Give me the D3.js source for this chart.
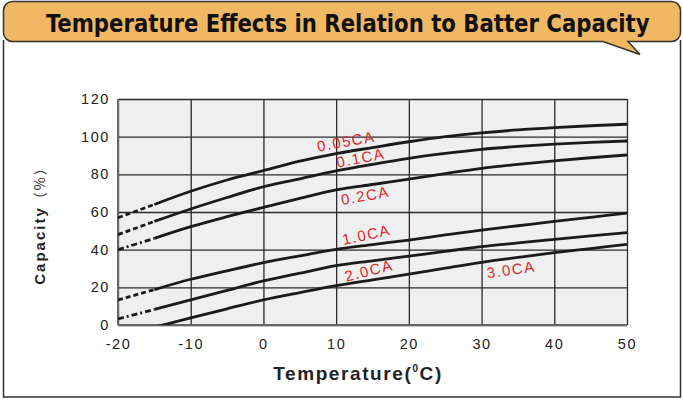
<!DOCTYPE html>
<html>
<head>
<meta charset="utf-8">
<script src="https://cdn.jsdelivr.net/npm/d3@7"></script>
<style>
  body { margin: 0; background: #fff; }
  svg { display: block; }
</style>
</head>
<body>
<script>
// temperatures (deg C) sampled along every curve
const temps = [-20, -15, -10, -5, 0, 5, 10, 15, 20, 25, 30, 35, 40, 45, 50];

// capacity (%) per discharge rate
const cap005 = [57, 64, 71, 77, 82, 87, 91, 94.2, 97.3, 100, 102, 103.6, 104.8, 105.8, 106.6];
const cap01  = [48, 55, 61.6, 67.7, 73.4, 77.6, 81.8, 85.3, 88.5, 91.1, 93.3, 94.8, 96, 97, 97.7];
const cap02  = [40, 46, 52.2, 57.5, 62.5, 67.2, 71.7, 74.6, 77.4, 80.4, 83.2, 85.3, 87.2, 88.8, 90.3];
const cap10  = [13.3, 18.8, 24.3, 28.8, 33.1, 36.7, 40.2, 42.7, 45.1, 47.8, 50.4, 52.7, 55, 57.2, 59.4];
const cap20  = [3.2, 8.3, 13.3, 18.4, 23.4, 27.5, 31.5, 34.1, 36.6, 39.1, 41.6, 43.6, 45.5, 47.3, 49];
const cap30  = [null, -1.2, 3.8, 8.6, 13.3, 17.2, 20.9, 24, 27, 30.2, 33.3, 35.9, 38.4, 40.6, 42.8];

const rateNames = ["0.05CA", "0.1CA", "0.2CA", "1.0CA", "2.0CA", "3.0CA"];
const rateValues = [cap005, cap01, cap02, cap10, cap20, cap30];

// where the estimated (dashed) part of each curve ends
const dashTo = -15;

const xTicks = [-20, -10, 0, 10, 20, 30, 40, 50];
const yTicks = [0, 20, 40, 60, 80, 100, 120];

// label anchor (temp, capacity) and tilt for each curve label
const labelAt = [[7.5, 92, -10], [10.2, 83.5, -11], [10.8, 63.7, -10], [11, 42.5, -12], [11.4, 23, -14], [30.8, 24.8, -8]];
const dashStyle = ["5,3", "5,3", "6,3,2,3", "5,3", "6,3,2,3", null];

const width = 683, height = 400;
const margin = {top: 99, right: 56, bottom: 75, left: 118};

const svg = d3.select("body").append("svg")
    .attr("width", width)
    .attr("height", height)
    .style("font-family", "'Liberation Sans', Arial, sans-serif");

// outer panel
svg.append("path")
    .attr("d", "M3.5,40 V397 H680.5 V40")
    .attr("fill", "#fff")
    .attr("stroke", "#333")
    .attr("stroke-width", 1.5);

// title bubble with tail
const r = 9, bx0 = 3.5, bx1 = 680.5, by0 = 1.5, by1 = 41.5;
svg.append("path")
    .attr("d", `M${bx0 + r},${by0} H${bx1 - r} A${r},${r} 0 0 1 ${bx1},${by0 + r} V${by1 - r}
      A${r},${r} 0 0 1 ${bx1 - r},${by1} H628 L640,54.5 L603,${by1} H${bx0 + r}
      A${r},${r} 0 0 1 ${bx0},${by1 - r} V${by0 + r} A${r},${r} 0 0 1 ${bx0 + r},${by0} Z`)
    .attr("fill", "#f1b864")
    .attr("stroke", "#333")
    .attr("stroke-width", 1.5);

// title: condensed by a horizontal scale so it fills the same span as the original
const title = svg.append("text")
    .style("font-family", "'Liberation Sans Narrow', 'DejaVu Sans Condensed', 'Liberation Sans', sans-serif")
    .style("font-weight", "bold")
    .style("font-size", "25px")
    .attr("fill", "#111")
    .text("Temperature Effects in Relation to Batter Capacity");
const titleW = title.node().getComputedTextLength();
title.attr("transform", `translate(46,32) scale(${604 / titleW},1)`);

const x = d3.scaleLinear()
    .domain([-20, 50])
    .range([margin.left, width - margin.right]);

const y = d3.scaleLinear()
    .domain([0, 120])
    .range([height - margin.bottom, margin.top]);

// plot background
svg.append("rect")
    .attr("x", x(-20))
    .attr("y", y(120))
    .attr("width", x(50) - x(-20))
    .attr("height", y(0) - y(120))
    .attr("fill", "#efefef");

// grid lines
svg.append("g")
    .attr("transform", `translate(0,${y(0)})`)
    .call(d3.axisBottom(x).tickValues(xTicks).tickSize(-(y(0) - y(120))).tickFormat(""))
    .call(g => g.select(".domain").remove())
    .call(g => g.selectAll("line").attr("stroke", "#2a2a2a").attr("stroke-width", 1.3));

svg.append("g")
    .attr("transform", `translate(${x(-20)},0)`)
    .call(d3.axisLeft(y).tickValues(yTicks).tickSize(-(x(50) - x(-20))).tickFormat(""))
    .call(g => g.select(".domain").remove())
    .call(g => g.selectAll("line").attr("stroke", "#2a2a2a").attr("stroke-width", 1.3));

// axis lines
svg.append("line")
    .attr("x1", x(-20)).attr("x2", x(-20))
    .attr("y1", y(0)).attr("y2", y(120))
    .attr("stroke", "#666").attr("stroke-width", 2);
svg.append("line")
    .attr("x1", x(-20)).attr("x2", x(50))
    .attr("y1", y(0)).attr("y2", y(0))
    .attr("stroke", "#666").attr("stroke-width", 2);

// tick labels (plain hyphen for negatives, as in the original)
svg.append("g")
    .attr("transform", `translate(0,${y(0)})`)
    .call(d3.axisBottom(x).tickValues(xTicks).tickSize(0).tickPadding(14).tickFormat(d => String(d)))
    .call(g => g.select(".domain").remove())
    .call(g => g.selectAll("text")
        .attr("fill", "#222")
        .style("font-family", "'Liberation Sans', Arial, sans-serif")
        .style("font-size", "14.5px")
        .style("letter-spacing", "1.6px"));

svg.append("g")
    .attr("transform", `translate(${x(-20)},0)`)
    .call(d3.axisLeft(y).tickValues(yTicks).tickSize(0).tickPadding(8).tickFormat(d => String(d)))
    .call(g => g.select(".domain").remove())
    .call(g => g.selectAll("text")
        .attr("fill", "#222")
        .style("font-family", "'Liberation Sans', Arial, sans-serif")
        .style("font-size", "14.5px")
        .style("letter-spacing", "1.6px"));

// curves
svg.append("clipPath").attr("id", "plot-clip")
    .append("rect")
    .attr("x", x(-20))
    .attr("y", y(120))
    .attr("width", x(50) - x(-20))
    .attr("height", y(0) - y(120));

const line = d3.line()
    .defined(d => d[1] != null)
    .x(d => x(d[0]))
    .y(d => y(d[1]))
    .curve(d3.curveMonotoneX);

const curves = svg.append("g").attr("clip-path", "url(#plot-clip)");

rateValues.forEach((vals, i) => {
    const pts = temps.map((t, j) => [t, vals[j]]);
    if (dashStyle[i]) {
        curves.append("path")
            .datum(pts.filter(d => d[0] <= dashTo))
            .attr("d", line)
            .attr("fill", "none")
            .attr("stroke", "#1a1a1a")
            .attr("stroke-width", 2.8)
            .attr("stroke-dasharray", dashStyle[i]);
    }
    curves.append("path")
        .datum(pts.filter(d => d[0] >= dashTo))
        .attr("d", line)
        .attr("fill", "none")
        .attr("stroke", "#1a1a1a")
        .attr("stroke-width", 2.8);
});

// curve labels
svg.append("g")
    .selectAll("text")
    .data(rateNames)
    .join("text")
    .attr("transform", (d, i) => `translate(${x(labelAt[i][0])},${y(labelAt[i][1])}) rotate(${labelAt[i][2]})`)
    .attr("fill", "#e2262b")
    .style("font-size", "15px")
    .style("letter-spacing", "1.5px")
    .text(d => d);

// axis titles
svg.append("text")
    .attr("x", 358)
    .attr("y", 380)
    .attr("text-anchor", "middle")
    .attr("fill", "#222")
    .style("font-weight", "bold")
    .style("font-size", "19px")
    .style("letter-spacing", "1.6px")
    .call(t => {
        t.append("tspan").text("Temperature(");
        t.append("tspan").attr("dy", -8).style("font-size", "10px").text("0");
        t.append("tspan").attr("dy", 8).text("C)");
    });

svg.append("text")
    .attr("transform", "translate(45,222) rotate(-90)")
    .attr("text-anchor", "middle")
    .attr("fill", "#222")
    .style("font-size", "15px")
    .style("letter-spacing", "2px")
    .call(t => {
        t.append("tspan").style("font-weight", "bold").text("Capacity");
        t.append("tspan").style("font-family", "'Noto Sans CJK SC', sans-serif").style("font-size", "14px").text("（%）");
    });
</script>
</body>
</html>
